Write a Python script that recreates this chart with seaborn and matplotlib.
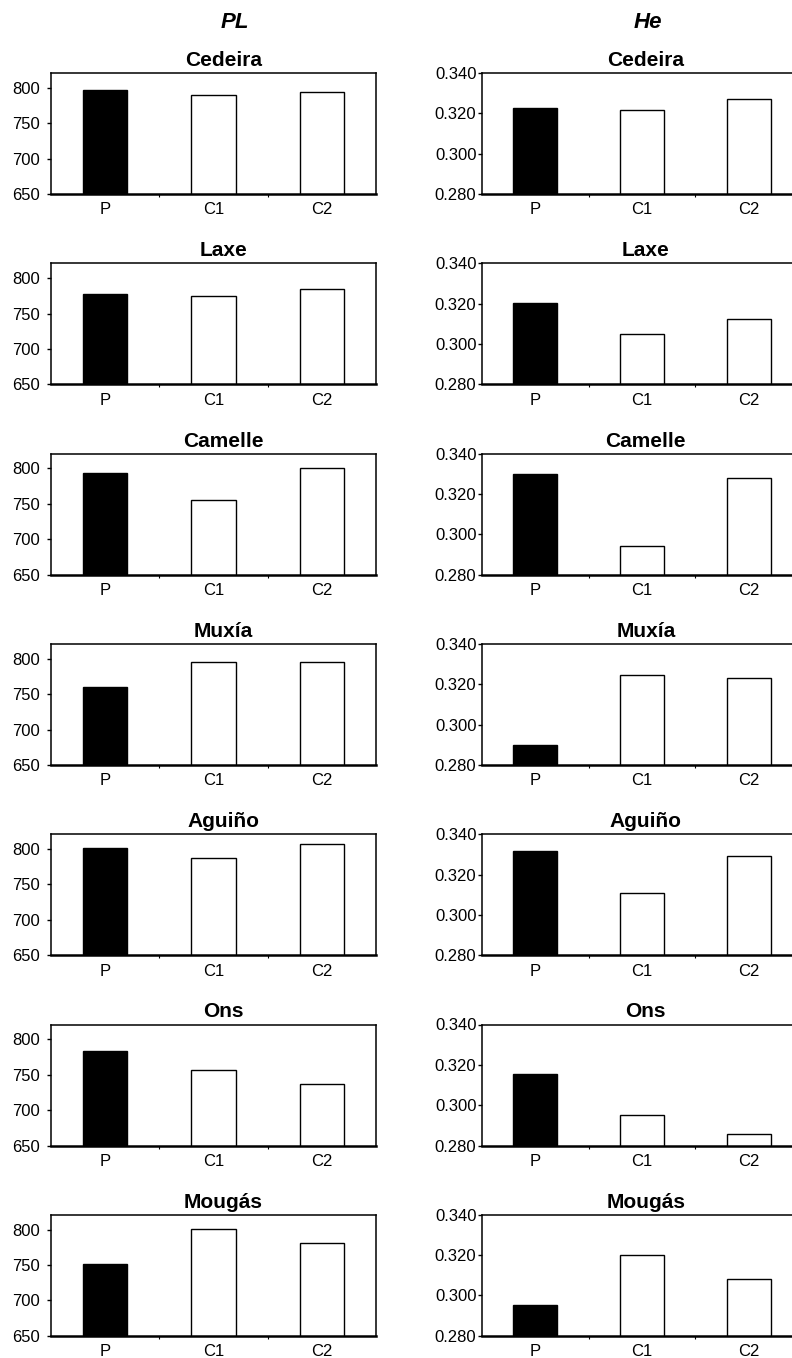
import matplotlib
matplotlib.use("Agg")
import matplotlib.pyplot as plt
import seaborn as sns
import pandas as pd
from matplotlib.ticker import FixedLocator, FormatStrFormatter

# Datos
sites = ['Cedeira', 'Laxe', 'Camelle', 'Muxía', 'Aguiño', 'Ons', 'Mougás']
groups = ['P', 'C1', 'C2']

pl_P = [797, 778, 794, 760, 801, 783, 751]
pl_C1 = [790, 775, 756, 795, 787, 757, 801]
pl_C2 = [794, 785, 800, 795, 807, 737, 781]

he_P = [0.3225, 0.3202, 0.3301, 0.2898, 0.3318, 0.3155, 0.2952]
he_C1 = [0.3217, 0.3051, 0.2944, 0.3248, 0.3107, 0.2950, 0.3202]
he_C2 = [0.3271, 0.3122, 0.3280, 0.3231, 0.3293, 0.2855, 0.3081]

pl_ticks = [650, 700, 750, 800]
he_ticks = [0.280, 0.300, 0.320, 0.340]

bar_colors = ['black', 'white', 'white']

sns.set_theme(style="white")
plt.rcParams['font.family'] = ['Liberation Sans', 'DejaVu Sans']
plt.rcParams.update({'text.color': 'black', 'xtick.color': 'black',
                     'ytick.color': 'black', 'axes.labelcolor': 'black'})

W, H = 792, 1358
fig = plt.figure(figsize=(W / 100, H / 100), dpi=100)


def draw_panel(ax, values, ylim, yticks, fmt, title, title_x, ypad):
    df = pd.DataFrame({'group': groups, 'value': values})
    sns.barplot(data=df, x='group', y='value', hue='group', palette=bar_colors,
                legend=False, width=0.41, edgecolor='black', linewidth=1.0,
                saturation=1, ax=ax)
    ax.set_xlim(-0.5, 2.5)
    ax.set_ylim(*ylim)
    ax.set_yticks(yticks)
    ax.yaxis.set_major_formatter(FormatStrFormatter(fmt))
    ax.set_xlabel('')
    ax.set_ylabel('')
    ax.xaxis.set_minor_locator(FixedLocator([0.5, 1.5]))
    ax.tick_params(axis='x', which='major', length=0, pad=6, labelsize=12)
    ax.tick_params(axis='x', which='minor', length=2.5, width=0.8,
                   direction='out', bottom=True)
    ax.tick_params(axis='y', which='major', length=3, width=1, pad=ypad,
                   labelsize=12, left=True, direction='out')
    for side in ['top', 'right', 'left']:
        ax.spines[side].set_linewidth(1.1)
        ax.spines[side].set_color('black')
    ax.spines['bottom'].set_linewidth(1.8)
    ax.spines['bottom'].set_color('black')
    ax.text(title_x, 1.025, title, transform=ax.transAxes, ha='center',
            va='bottom', fontsize=15, fontweight='bold')


row_top0 = 73
row_step = 190.3
ax_h = 121

for i, site in enumerate(sites):
    top = row_top0 + i * row_step
    bottom = 1 - (top + ax_h) / H

    ax_l = fig.add_axes([51 / W, bottom, 325 / W, ax_h / H])
    draw_panel(ax_l, [pl_P[i], pl_C1[i], pl_C2[i]], (650, 821), pl_ticks,
               '%d', site, 0.53, 5)

    ax_r = fig.add_axes([482 / W, bottom, 320 / W, ax_h / H])
    draw_panel(ax_r, [he_P[i], he_C1[i], he_C2[i]], (0.280, 0.340), he_ticks,
               '%.3f', site, 0.512, 1)

fig.text(235 / W, 1 - 22 / H, 'PL', ha='center', va='center',
         fontsize=16, fontweight='bold', fontstyle='italic')
fig.text(648 / W, 1 - 22 / H, 'He', ha='center', va='center',
         fontsize=16, fontweight='bold', fontstyle='italic')

fig.savefig('out.png', dpi=100)
plt.close(fig)
